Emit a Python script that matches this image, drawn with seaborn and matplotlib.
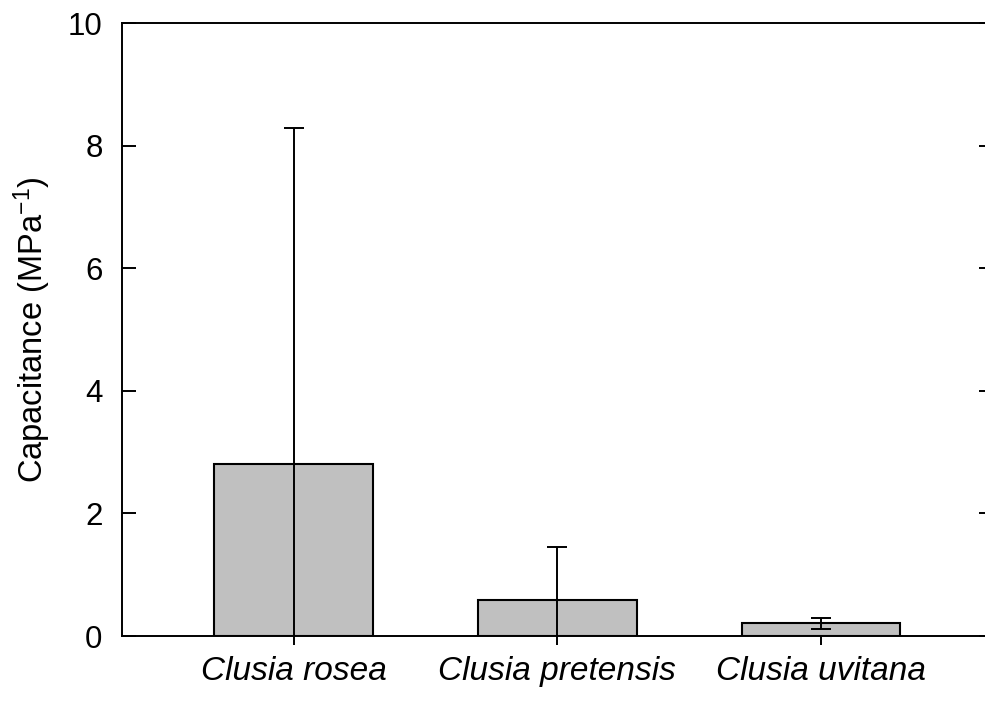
import matplotlib
matplotlib.use("Agg")
import matplotlib.pyplot as plt
import seaborn as sns
import pandas as pd

species = ['Clusia rosea', 'Clusia pretensis', 'Clusia uvitana']
capacitance = [2.80, 0.59, 0.21]
cap_err = [5.49, 0.87, 0.09]
yticks = [0, 2, 4, 6, 8, 10]

sns.set_style('ticks')
plt.rcParams['font.family'] = ['Liberation Sans', 'DejaVu Sans']
plt.rcParams['mathtext.fontset'] = 'custom'
plt.rcParams['mathtext.rm'] = 'Liberation Sans'
plt.rcParams['mathtext.it'] = 'Liberation Sans:italic'
plt.rcParams['text.color'] = 'black'
plt.rcParams['axes.labelcolor'] = 'black'

df = pd.DataFrame({'species': species, 'capacitance': capacitance})

fig = plt.figure(figsize=(9.85, 7.02), dpi=100)
ax = fig.add_axes([0.1239, 0.094, 0.884, 0.873])

sns.barplot(data=df, x='species', y='capacitance', color='#c0c0c0',
            edgecolor='black', linewidth=1.5, width=0.6, saturation=1,
            errorbar=None, ax=ax)
ax.errorbar(range(len(species)), capacitance, yerr=cap_err, fmt='none',
            ecolor='black', elinewidth=1.4, capsize=7, capthick=1.4, zorder=5)

ax.set_xlim(-0.65, 2.65)
ax.set_ylim(0, 10)
ax.set_yticks(yticks)
ax.set_xlabel('')
ax.set_ylabel(r'Capacitance (MPa$^{-1}$)', fontsize=23.5, labelpad=11,
              color='black')

for lab in ax.get_xticklabels():
    lab.set_fontstyle('italic')

ax.spines['right'].set_visible(False)
for s in ['left', 'top', 'bottom']:
    ax.spines[s].set_linewidth(1.4)
    ax.spines[s].set_color('black')

ax.tick_params(axis='y', direction='in', length=10, width=1.4, right=True,
               labelsize=22.5, pad=14, colors='black')
ax.tick_params(axis='x', direction='out', length=6.5, width=1.4,
               labelsize=24, pad=8, colors='black')

fig.savefig('out.png', dpi=100)
